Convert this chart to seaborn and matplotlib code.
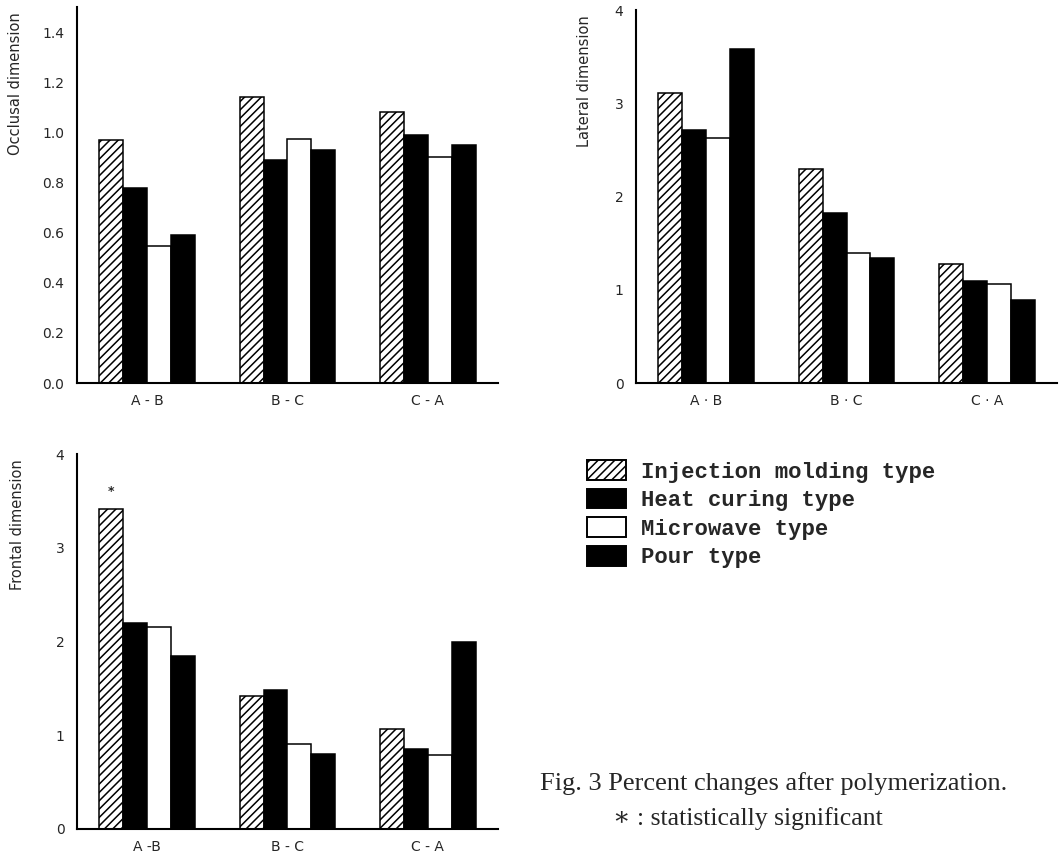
import matplotlib
matplotlib.use("Agg")
import matplotlib.pyplot as plt
import seaborn as sns
import pandas as pd
from matplotlib.patches import Patch
from matplotlib.ticker import MultipleLocator, FixedLocator, FormatStrFormatter

# Data
pairs = ["A - B", "B - C", "C - A"]
types = ["Injection molding type", "Heat curing type", "Microwave type", "Pour type"]

# rows: injection molding, heat curing, microwave, pour
occlusal = [
    [0.97, 1.14, 1.08],
    [0.78, 0.89, 0.99],
    [0.545, 0.975, 0.90],
    [0.59, 0.93, 0.95],
]
lateral = [
    [3.11, 2.29, 1.28],
    [2.71, 1.82, 1.09],
    [2.63, 1.39, 1.06],
    [3.58, 1.34, 0.89],
]
frontal = [
    [3.41, 1.42, 1.07],
    [2.20, 1.48, 0.85],
    [2.16, 0.91, 0.79],
    [1.85, 0.80, 1.99],
]

top_xlabels = ["A - B", "B - C", "C - A"]
right_xlabels = ["A · B", "B · C", "C · A"]
bottom_xlabels = ["A -B", "B - C", "C - A"]

colors = {types[0]: "white", types[1]: "black", types[2]: "white", types[3]: "black"}
hatches = ["////", None, None, None]

sns.set_style("white")
plt.rcParams["font.family"] = ["DejaVu Sans"]
plt.rcParams["hatch.linewidth"] = 1.1


def to_long(values):
    rows = []
    for t, vals in zip(types, values):
        for p, v in zip(pairs, vals):
            rows.append({"pair": p, "type": t, "value": v})
    return pd.DataFrame(rows)


def draw_panel(ax, values, ylabel, ymax, major, minor, fmt, xlabels, label_x):
    df = to_long(values)
    sns.barplot(
        data=df, x="pair", y="value", hue="type",
        order=pairs, hue_order=types, palette=colors,
        width=0.68, saturation=1, edgecolor="black", linewidth=1.1,
        legend=False, ax=ax,
    )
    for cont, h in zip(ax.containers, hatches):
        for bar in cont:
            if h:
                bar.set_hatch(h)

    ax.set_xlim(-0.5, 2.5)
    ax.set_ylim(0, ymax)
    ax.yaxis.set_major_locator(MultipleLocator(major))
    ax.yaxis.set_minor_locator(MultipleLocator(minor))
    ax.yaxis.set_major_formatter(FormatStrFormatter(fmt))
    ax.xaxis.set_minor_locator(FixedLocator([0.5, 1.5]))
    ax.set_xticks(range(len(pairs)))
    ax.set_xticklabels(xlabels)

    ax.tick_params(axis="x", which="major", length=0, pad=8, labelsize=10)
    ax.tick_params(axis="x", which="minor", length=4, width=1.2, direction="out")
    ax.tick_params(axis="y", which="major", length=5, width=1.2, direction="out",
                   labelsize=10, pad=4)
    ax.tick_params(axis="y", which="minor", length=3, width=1, direction="out")

    ax.set_xlabel("")
    ax.set_ylabel(ylabel, fontsize=10.5, loc="top")
    ax.yaxis.set_label_coords(label_x, 0.985)

    sns.despine(ax=ax)
    for s in ["left", "bottom"]:
        ax.spines[s].set_linewidth(1.5)
        ax.spines[s].set_color("black")


fig = plt.figure(figsize=(10.62, 8.58), dpi=100)

ax1 = fig.add_axes([0.0725, 0.5536, 0.3964, 0.4382])
ax2 = fig.add_axes([0.5989, 0.5536, 0.3964, 0.4347])
ax3 = fig.add_axes([0.0725, 0.0338, 0.3964, 0.4370])

draw_panel(ax1, occlusal, "Occlusal dimension", 1.5, 0.2, 0.1, "%.1f", top_xlabels, -0.128)
draw_panel(ax2, lateral, "Lateral dimension", 4, 1, 0.5, "%d", right_xlabels, -0.105)
draw_panel(ax3, frontal, "Frontal dimension", 4, 1, 0.5, "%d", bottom_xlabels, -0.124)

# significance mark above the injection molding bar of A-B (frontal)
first = ax3.containers[0][0]
ax3.text(first.get_x() + first.get_width() / 2, frontal[0][0] + 0.12, "*",
         ha="center", va="bottom", fontsize=9, fontweight="bold")

# legend
handles = [
    Patch(facecolor=colors[t], edgecolor="black", hatch=h, linewidth=1.4, label=t)
    for t, h in zip(types, hatches)
]
fig.legend(
    handles=handles, loc="upper left", bbox_to_anchor=(587 / 1062, 1 - 460 / 858),
    frameon=False, borderpad=0, borderaxespad=0,
    prop={"family": ["Liberation Mono", "DejaVu Sans Mono"], "size": 16, "weight": "bold"},
    handlelength=1.75, handleheight=1.0, handletextpad=0.7, labelspacing=0.27,
)

# caption
fig.text(1007 / 1062, 1 - 790 / 858, "Fig. 3 Percent changes after polymerization.",
         ha="right", va="baseline", fontsize=19, family=["Liberation Serif", "DejaVu Serif"])
fig.text(613 / 1062, 1 - 825 / 858, "\u2217 : statistically significant",
         ha="left", va="baseline", fontsize=18.5, family=["Liberation Serif", "DejaVu Serif"])

fig.savefig("out.png", dpi=100)
plt.close(fig)
